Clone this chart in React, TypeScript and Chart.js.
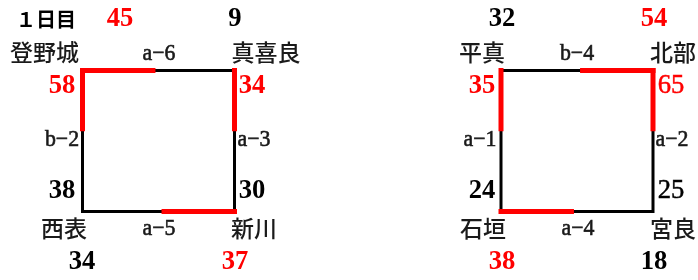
import React, { useEffect, useRef } from "react";
import { Chart, registerables } from "chart.js";

Chart.register(...registerables);

// ---------- data ----------
const DAY_LABEL = "１日目";
// corner teams per group: top-left, top-right, bottom-right, bottom-left
const GROUP_TEAMS = [
  ["登野城", "真喜良", "新川", "西表"],
  ["平真", "北部", "宮良", "石垣"],
];
// edges per group: top, right, bottom, left
const EDGE_CODES = [
  ["a−6", "a−3", "a−5", "b−2"],
  ["b−4", "a−2", "a−4", "a−1"],
];
// first team of edge: top→TL, right→TR, bottom→BL, left→TL
const SCORE_FIRST = [
  [45, 34, 34, 58],
  [32, 65, 38, 35],
];
// second team of edge: top→TR, right→BR, bottom→BR, left→BL
const SCORE_SECOND = [
  [9, 30, 37, 38],
  [54, 25, 18, 24],
];

// ---------- layout (positions / styles) ----------
const EDGE_CORNERS = [
  [0, 1],
  [1, 2],
  [3, 2],
  [0, 3],
];
const SQUARE_LEFT = [82.5, 501];
const SQUARE_TOP = 70.5;
const SQUARE_W = 152;
const SQUARE_H = 141;
const RED_SHARE_H = 0.48;
const RED_SHARE_V = 0.43;
const RED_W = 5;
const BLACK_W = 3;

const SCORE_POS = [
  [
    [[120, 19], [235, 19]],
    [[252, 86], [252, 191]],
    [[82, 262], [235, 262]],
    [[62, 86], [62, 191]],
  ],
  [
    [[502, 19], [654, 19]],
    [[671, 86], [671, 191]],
    [[502, 262], [654, 262]],
    [[482, 86], [482, 191]],
  ],
];
const SCORE_BOLD = [
  [true, true, true, true],
  [true, false, true, true],
];
const NAME_POS = [
  [[44.5, 52], [266, 52], [254, 228], [64, 228]],
  [[482, 52], [673, 52], [673, 228], [483, 228]],
];
const CODE_POS = [
  [[159, 54], [254, 140], [159, 229], [62, 140]],
  [[577, 54], [672, 140], [578, 229], [480, 140]],
];
const DAY_POS = [46, 19];

const RED = "#ff0000";
const NUM_FONT = '"Liberation Serif", "DejaVu Serif", serif';
const JP_FONT = '"Noto Sans CJK JP", sans-serif';

function corners(g: number) {
  const l = SQUARE_LEFT[g];
  const r = l + SQUARE_W;
  const t = SQUARE_TOP;
  const b = t + SQUARE_H;
  return [
    { x: l, y: t },
    { x: r, y: t },
    { x: r, y: b },
    { x: l, y: b },
  ];
}

function buildDatasets() {
  const ds: any[] = [];
  for (let g = 0; g < GROUP_TEAMS.length; g++) {
    const c = corners(g);
    ds.push({
      data: [c[0], c[1], c[2], c[3], c[0], c[1]],
      borderColor: "#000",
      borderWidth: BLACK_W,
      borderJoinStyle: "miter",
      borderCapStyle: "butt",
      pointRadius: 0,
      showLine: true,
      fill: false,
      order: 2,
    });
    for (let e = 0; e < 4; e++) {
      const [ia, ib] = EDGE_CORNERS[e];
      const firstWins = SCORE_FIRST[g][e] > SCORE_SECOND[g][e];
      const from = firstWins ? c[ia] : c[ib];
      const to = firstWins ? c[ib] : c[ia];
      const dx = to.x - from.x;
      const dy = to.y - from.y;
      const len = Math.hypot(dx, dy);
      const ux = dx / len;
      const uy = dy / len;
      const share = Math.abs(dx) > 0 ? RED_SHARE_H : RED_SHARE_V;
      const start = { x: from.x - ux * (RED_W / 2), y: from.y - uy * (RED_W / 2) };
      const end = { x: from.x + dx * share, y: from.y + dy * share };
      ds.push({
        data: [start, end],
        borderColor: RED,
        borderWidth: RED_W,
        borderCapStyle: "butt",
        pointRadius: 0,
        showLine: true,
        fill: false,
        order: 1,
      });
    }
  }
  return ds;
}

const textPlugin = {
  id: "bracketText",
  afterDatasetsDraw(chart: any) {
    const ctx = chart.ctx as CanvasRenderingContext2D;
    const xs = chart.scales.x;
    const ys = chart.scales.y;
    const put = (
      txt: string,
      p: number[],
      font: string,
      color: string,
      sx = 1,
      stroke = 0
    ) => {
      ctx.save();
      ctx.font = font;
      ctx.fillStyle = color;
      ctx.strokeStyle = color;
      ctx.textAlign = "center";
      ctx.textBaseline = "middle";
      ctx.translate(xs.getPixelForValue(p[0]), ys.getPixelForValue(p[1]));
      ctx.scale(sx, 1);
      ctx.fillText(txt, 0, 0);
      if (stroke > 0) {
        ctx.lineWidth = stroke;
        ctx.strokeText(txt, 0, 0);
      }
      ctx.restore();
    };
    put(DAY_LABEL, DAY_POS, `bold 20px ${JP_FONT}`, "#000");
    for (let g = 0; g < GROUP_TEAMS.length; g++) {
      for (let i = 0; i < 4; i++) {
        put(GROUP_TEAMS[g][i], NAME_POS[g][i], `500 23px ${JP_FONT}`, "#1a1a1a");
      }
      for (let e = 0; e < 4; e++) {
        put(EDGE_CODES[g][e], CODE_POS[g][e], `23px ${NUM_FONT}`, "#1a1a1a", 0.95, 0.6);
        const a = SCORE_FIRST[g][e];
        const b = SCORE_SECOND[g][e];
        const bold = SCORE_BOLD[g][e];
        const f = bold ? `bold 28px ${NUM_FONT}` : `28px ${NUM_FONT}`;
        const st = bold ? 0 : 0.5;
        put(String(a), SCORE_POS[g][e][0], f, a > b ? RED : "#000", 0.95, st);
        put(String(b), SCORE_POS[g][e][1], f, b > a ? RED : "#000", 0.95, st);
      }
    }
  },
};

export default function App() {
  const ref = useRef<HTMLCanvasElement | null>(null);
  useEffect(() => {
    if (!ref.current) return;
    const chart = new Chart(ref.current, {
      type: "scatter",
      data: { datasets: buildDatasets() },
      options: {
        animation: false,
        responsive: false,
        maintainAspectRatio: false,
        layout: { padding: 0 },
        plugins: { legend: { display: false }, tooltip: { enabled: false } },
        scales: {
          x: { type: "linear", min: 0, max: 698, display: false },
          y: { type: "linear", min: 0, max: 280, reverse: true, display: false },
        },
      },
      plugins: [textPlugin],
    } as any);
    return () => chart.destroy();
  }, []);
  return (
    <div style={{ position: "fixed", left: 0, top: 0, width: 698, height: 280, background: "#fff" }}>
      <canvas ref={ref} width={698} height={280} style={{ width: 698, height: 280, display: "block" }} />
    </div>
  );
}
